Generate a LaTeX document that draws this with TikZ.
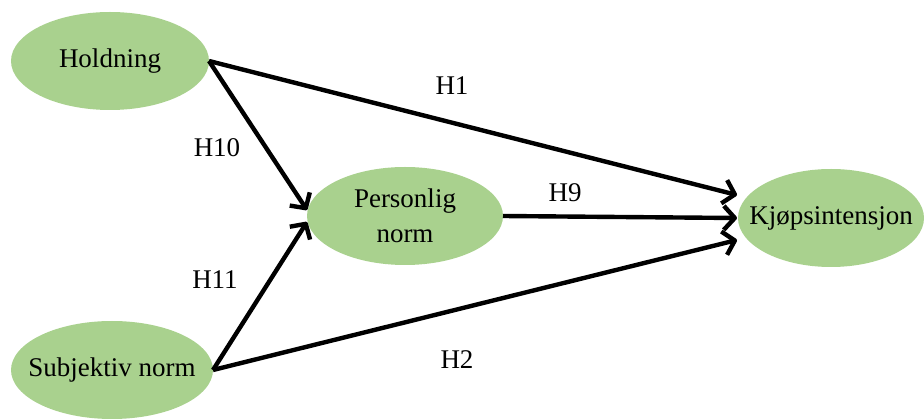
\documentclass[tikz,border=0pt]{standalone}
\usepackage{fontspec}
\setmainfont{Liberation Serif}
\usetikzlibrary{shapes.geometric,arrows.meta}
\definecolor{constructgreen}{HTML}{A9D18E}
\begin{document}
\begin{tikzpicture}[x=1pt,y=-1pt,
  construct/.style={ellipse,fill=constructgreen,draw=none,inner xsep=-25pt,inner ysep=-8pt,outer sep=0pt,
    align=center,font=\fontsize{27}{35}\selectfont},
  path/.style={line width=4.4pt,line join=round,-{Straight Barb[length=11pt,width=24pt,line join=round]}},
  hyp/.style={font=\fontsize{27}{30}\selectfont}]
\useasboundingbox (0,0) rectangle (924,419);
\node[construct,minimum width=198pt,minimum height=98pt] (hold) at (110,61) {Holdning};
\node[construct,minimum width=196pt,minimum height=98pt] (pers) at (405,216) {Personlig\\norm};
\node[construct,minimum width=186pt,minimum height=98pt] (kjop) at (831,218) {Kjøpsintensjon};
\node[construct,minimum width=202pt,minimum height=98pt] (subj) at (112,370) {Subjektiv norm};

\draw[path] (hold.east) -- ([yshift=23pt,xshift=-1pt]kjop.west);
\draw[path] (hold.east) -- ([yshift=6pt]pers.west);
\draw[path] (subj.east) -- ([yshift=-6pt]pers.west);
\draw[path] (subj.east) -- ([yshift=-22pt,xshift=-1pt]kjop.west);
\draw[path] (pers.east) -- ([xshift=-1pt]kjop.west);

\node[hyp] (h1) at (452,86) {H1};
\node[hyp] (h10) at (217,148) {H10};
\node[hyp] (h9) at (565,193) {H9};
\node[hyp] (h11) at (215,280) {H11};
\node[hyp] (h2) at (457,360) {H2};
\end{tikzpicture}
\end{document}
